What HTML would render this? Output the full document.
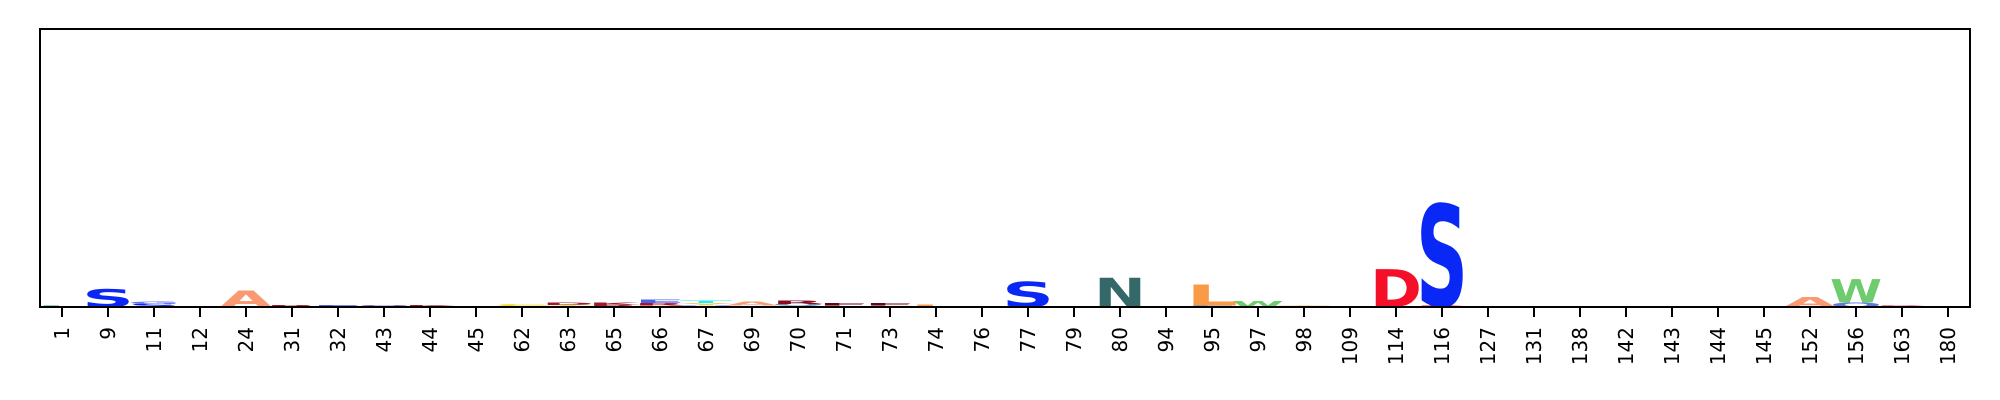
<!DOCTYPE html>
<html><head><meta charset="utf-8"><style>
html,body{margin:0;padding:0;background:#fff;}
svg{display:block;}
</style></head><body>
<svg id="chart" width="2000" height="400" xmlns="http://www.w3.org/2000/svg">
<g id="marks"></g>
<g id="xaxis"></g>
<rect x="40" y="29" width="1930" height="278" fill="none" stroke="#000" stroke-width="2"/>
</svg>
<script>
const positions = ["1","9","11","12","24","31","32","43","44","45","62","63","65","66","67","69","70","71","73","74","76","77","79","80","94","95","97","98","109","114","116","127","131","138","142","143","144","145","152","156","163","180"];
// stacks per position index: [letter, height(bits), color], bottom to top
const stackIdx = [0,1,2,4,5,6,7,8,10,11,12,13,14,15,16,17,18,19,21,23,25,26,27,29,30,38,39,40];
const stackLetters = [
 [["L",0.02,"#2a9d8f"]],
 [["S",0.28,"#0a28f5"]],
 [["S",0.05,"#0a28f5"],["G",0.04,"#6677ee"]],
 [["A",0.25,"#f99a72"]],
 [["R",0.03,"#a01c2a"]],
 [["E",0.03,"#5566dd"]],
 [["Q",0.03,"#7755aa"]],
 [["K",0.03,"#a01c2a"]],
 [["Y",0.015,"#eecc22"],["C",0.025,"#eedd33"]],
 [["T",0.03,"#eedd55"],["D",0.04,"#a01c2a"]],
 [["R",0.04,"#a01c2a"],["K",0.03,"#a01c2a"]],
 [["T",0.02,"#eecc55"],["R",0.04,"#b01030"],["E",0.05,"#4466ee"]],
 [["V",0.02,"#5566dd"],["Y",0.04,"#eecc66"],["T",0.04,"#22eeee"]],
 [["I",0.02,"#88ccee"],["A",0.06,"#f99a72"]],
 [["Y",0.02,"#eedd66"],["Q",0.03,"#6688cc"],["R",0.05,"#8b0a1e"]],
 [["L",0.02,"#eedd55"],["F",0.04,"#660033"]],
 [["C",0.02,"#eedd55"],["F",0.04,"#660033"]],
 [["L",0.04,"#f99b46"]],
 [["S",0.39,"#0a28f5"]],
 [["N",0.45,"#356868"]],
 [["E",0.02,"#5599dd"],["L",0.32,"#f99b46"]],
 [["W",0.09,"#6ecb6e"]],
 [["T",0.015,"#eebb77"]],
 [["D",0.59,"#f5102a"]],
 [["D",0.02,"#f5102a"],["S",1.58,"#0a28f5"]],
 [["A",0.15,"#f99a72"]],
 [["O",0.07,"#6677dd"],["W",0.36,"#6ecb6e"]],
 [["D",0.02,"#d01030"]]
];
const ymax = 4.32;
const X0=40, X1=1970, Y0=29, Y1=307;
function xPos(i){ return 62 + i*46; }
function yScale(v){ return Y1 - v/ymax*(Y1-Y0); }
const NS="http://www.w3.org/2000/svg";
const marks=document.getElementById('marks');
stackIdx.forEach((pi,k)=>{
  let base=0;
  stackLetters[k].forEach(([ch,h,col])=>{
    const yb=yScale(base), yt=yScale(base+h), hp=yb-yt;
    const t=document.createElementNS(NS,'text');
    
    
    const fs=hp/0.729;
    t.setAttribute('x',xPos(pi)-26);
    t.setAttribute('y',yb);
    t.setAttribute('font-size',fs);
    t.setAttribute('font-family','"DejaVu Sans","Liberation Sans",sans-serif');
    t.setAttribute('font-weight','bold');
    t.setAttribute('fill',col);
    t.setAttribute('textLength',52);
    t.setAttribute('lengthAdjust','spacingAndGlyphs');
    t.textContent=ch;
    marks.appendChild(t);
    base+=h;
  });
});
const ax=document.getElementById('xaxis');
positions.forEach((p,i)=>{
  const x=xPos(i);
  const l=document.createElementNS(NS,'line');
  
  
  l.setAttribute('x1',x);l.setAttribute('x2',x);l.setAttribute('y1',307);l.setAttribute('y2',317);
  l.setAttribute('stroke','#000');l.setAttribute('stroke-width','2');
  ax.appendChild(l);
  const t=document.createElementNS(NS,'text');
  
  
  t.setAttribute('transform','translate('+(x+7)+',327) rotate(-90)');
  t.setAttribute('text-anchor','end');
  t.setAttribute('font-size','20');
  t.setAttribute('font-family','"DejaVu Sans","Liberation Sans",sans-serif');
  t.textContent=p;
  ax.appendChild(t);
});
</script>
</body></html>
